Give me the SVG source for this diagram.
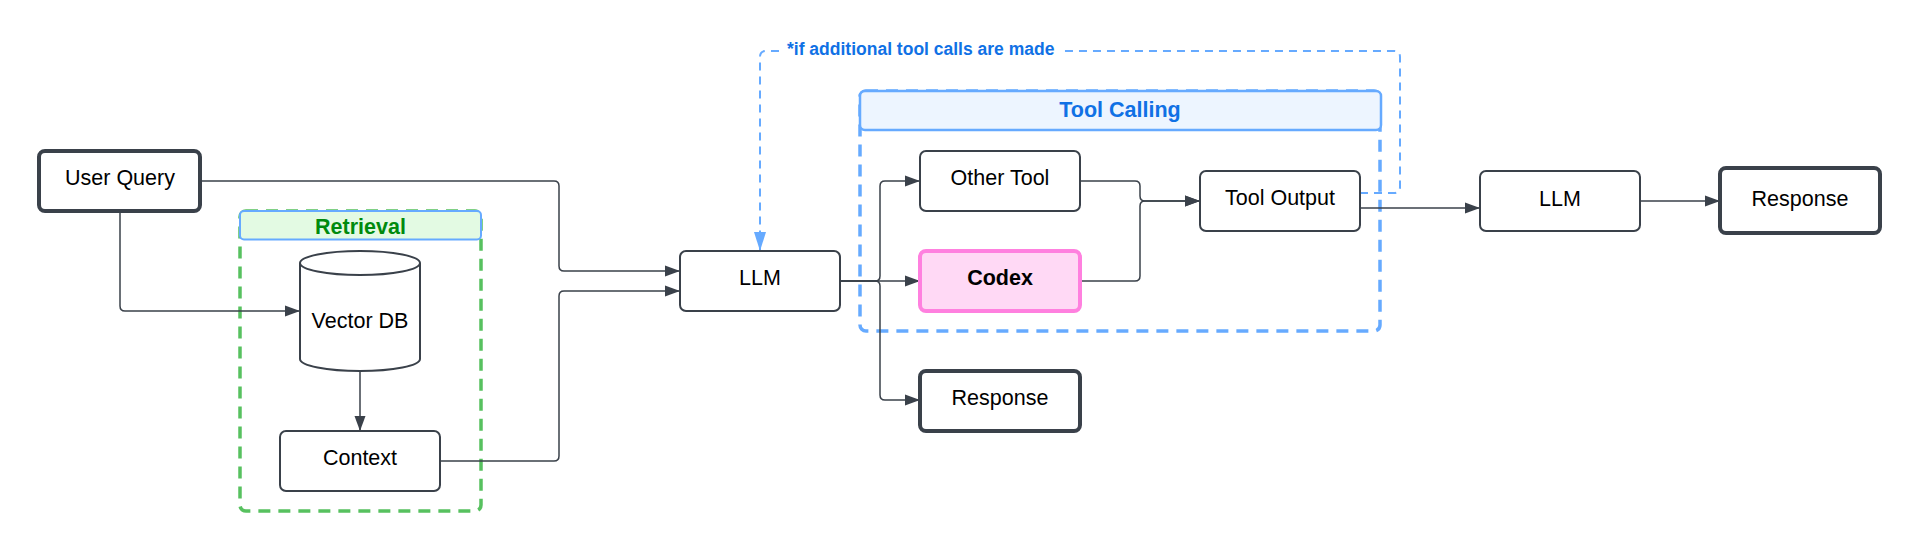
<svg xmlns="http://www.w3.org/2000/svg" width="1920" height="551" viewBox="0 0 1920 551">
<style>
.node{fill:#fff;stroke:#3a414a;stroke-width:2}
.thick{fill:#fff;stroke:#3a414a;stroke-width:4}
.lbl{font-family:"Liberation Sans",Arial,sans-serif;font-size:21.5px;fill:#000;text-anchor:middle}
.bold{font-weight:bold}
.conn{fill:none;stroke:#3a414a;stroke-width:1.5}
.fb{fill:none;stroke:#66aaff;stroke-width:2;stroke-dasharray:8 6}
</style>
<defs>
<marker id="arr" markerUnits="userSpaceOnUse" markerWidth="16" markerHeight="12" refX="15" refY="6" orient="auto">
<path d="M0,0.5 L15,6 L0,11.5 Z" fill="#3a414a"/>
</marker>
<marker id="arrb" markerUnits="userSpaceOnUse" markerWidth="20" markerHeight="14" refX="19" refY="7" orient="auto">
<path d="M0,1 L19,7 L0,13 Z" fill="#66aaff"/>
</marker>
</defs>
<rect width="1920" height="551" fill="#fff"/>

<g id="retrieval-group">
<rect x="240" y="211" width="241" height="300" rx="6" fill="none" stroke="#57c15f" stroke-width="3.5" stroke-dasharray="12 8"/>
<rect x="240" y="211" width="241" height="28.5" rx="4" fill="#e3fae3" stroke="#66aaff" stroke-width="2"/>
<text x="360.5" y="234" class="lbl bold" style="fill:#008a0e">Retrieval</text>
</g>

<g id="toolcalling-group">
<rect x="860" y="91" width="520" height="240" rx="6" fill="none" stroke="#66aaff" stroke-width="3.5" stroke-dasharray="12 8"/>
<rect x="860" y="91" width="521" height="39" rx="5" fill="#edf5ff" stroke="#66aaff" stroke-width="2.5"/>
<text x="1120" y="116.5" class="lbl bold" style="fill:#1071e5">Tool Calling</text>
</g>

<g id="connectors">
<path class="conn" d="M200 181 H554 Q559 181 559 186 V266 Q559 271 564 271 H680" marker-end="url(#arr)"/>
<path class="conn" d="M440 461 H554 Q559 461 559 456 V296 Q559 291 564 291 H680" marker-end="url(#arr)"/>
<path class="conn" d="M120 211 V306 Q120 311 125 311 H300" marker-end="url(#arr)"/>
<path class="conn" d="M360 371 V431" marker-end="url(#arr)"/>
<path class="conn" d="M840 281 H875 Q880 281 880 276 V186 Q880 181 885 181 H920" marker-end="url(#arr)"/>
<path class="conn" d="M840 281 H920" marker-end="url(#arr)"/>
<path class="conn" d="M840 281 H875 Q880 281 880 286 V395 Q880 400 885 400 H920" marker-end="url(#arr)"/>
<path class="conn" d="M1080 181 H1135 Q1140 181 1140 186 V196 Q1140 201 1145 201 H1200" marker-end="url(#arr)"/>
<path class="conn" d="M1080 281 H1135 Q1140 281 1140 276 V206 Q1140 201 1145 201 H1200" marker-end="url(#arr)"/>
<path class="conn" d="M1360 208 H1480" marker-end="url(#arr)"/>
<path class="conn" d="M1640 201 H1720" marker-end="url(#arr)"/>
<path class="fb" d="M1360 193 H1394 Q1400 193 1400 187 V57 Q1400 51 1394 51 H766 Q760 51 760 57 V251" marker-end="url(#arrb)"/>
<rect x="782" y="39" width="282" height="22" fill="#fff"/>
<text x="787" y="55" style="font-family:'Liberation Sans',Arial,sans-serif;font-size:17.5px;font-weight:bold;fill:#1071e5">*if additional tool calls are made</text>
</g>

<g id="user-query">
<rect x="39" y="151" width="161" height="60" rx="6" class="thick"/>
<text x="120" y="185" class="lbl">User Query</text>
</g>

<g id="vector-db">
<path d="M300 263 V359 A60 12 0 0 0 420 359 V263" class="node"/>
<ellipse cx="360" cy="263" rx="60" ry="12" class="node"/>
<text x="360" y="328" class="lbl">Vector DB</text>
</g>

<g id="context">
<rect x="280" y="431" width="160" height="60" rx="6" class="node"/>
<text x="360" y="465" class="lbl">Context</text>
</g>

<g id="llm1">
<rect x="680" y="251" width="160" height="60" rx="6" class="node"/>
<text x="760" y="285" class="lbl">LLM</text>
</g>

<g id="other-tool">
<rect x="920" y="151" width="160" height="60" rx="6" class="node"/>
<text x="1000" y="185" class="lbl">Other Tool</text>
</g>

<g id="codex">
<rect x="920" y="251" width="160" height="60" rx="6" fill="#ffd9f5" stroke="#ff80df" stroke-width="4"/>
<text x="1000" y="285" class="lbl bold">Codex</text>
</g>

<g id="response1">
<rect x="920" y="371" width="160" height="60" rx="6" class="thick"/>
<text x="1000" y="405" class="lbl">Response</text>
</g>

<g id="tool-output">
<rect x="1200" y="171" width="160" height="60" rx="6" class="node"/>
<text x="1280" y="205" class="lbl">Tool Output</text>
</g>

<g id="llm2">
<rect x="1480" y="171" width="160" height="60" rx="6" class="node"/>
<text x="1560" y="206" class="lbl">LLM</text>
</g>

<g id="response2">
<rect x="1720" y="168" width="160" height="65" rx="6" class="thick"/>
<text x="1800" y="206" class="lbl">Response</text>
</g>
</svg>
